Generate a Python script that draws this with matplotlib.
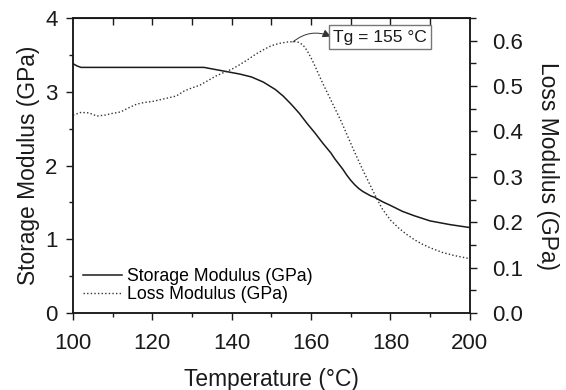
#!/usr/bin/env python3
"""DMA curves: storage and loss modulus against temperature."""

import numpy as np
import matplotlib.pyplot as plt
from matplotlib.ticker import MultipleLocator

plt.rcParams['font.family'] = ['Liberation Sans', 'DejaVu Sans']

# storage modulus (GPa), left axis
temp_storage = [100, 101, 102, 110, 120, 130, 133, 136, 139, 142, 145, 148,
                151, 153, 155, 157, 159, 161, 163, 165, 166, 167, 168, 169,
                170, 171, 172, 173, 174, 175, 176, 177, 178, 180, 183, 186,
                190, 195, 200]
storage = [3.38, 3.35, 3.33, 3.33, 3.33, 3.33, 3.33, 3.30, 3.27, 3.24, 3.20,
           3.13, 3.03, 2.94, 2.83, 2.71, 2.57, 2.44, 2.30, 2.17, 2.09, 2.02,
           1.95, 1.87, 1.80, 1.74, 1.69, 1.65, 1.62, 1.59, 1.57, 1.54, 1.51,
           1.46, 1.38, 1.32, 1.25, 1.20, 1.16]

# loss modulus (GPa), right axis
temp_loss = [100, 102, 104, 106, 108, 110, 112, 114, 116, 118, 120, 122, 124,
             126, 128, 130, 132, 134, 136, 138, 140, 142, 144, 146, 148, 150,
             152, 154, 156, 157, 158, 159, 160, 161, 162, 163, 164, 165, 166,
             167, 168, 169, 170, 171, 172, 173, 174, 175, 176, 177, 178, 180,
             182, 184, 186, 188, 190, 193, 196, 200]
loss = [0.436, 0.442, 0.441, 0.434, 0.436, 0.440, 0.443, 0.452, 0.460, 0.464,
        0.466, 0.470, 0.474, 0.478, 0.489, 0.496, 0.502, 0.512, 0.522, 0.530,
        0.537, 0.547, 0.558, 0.570, 0.580, 0.589, 0.594, 0.597, 0.598, 0.596,
        0.590, 0.578, 0.562, 0.544, 0.524, 0.505, 0.487, 0.469, 0.451, 0.433,
        0.414, 0.394, 0.374, 0.354, 0.335, 0.316, 0.298, 0.280, 0.262, 0.245,
        0.229, 0.205, 0.188, 0.174, 0.162, 0.152, 0.144, 0.134, 0.127, 0.120]

tg = 155
tg_label = f'Tg = {tg} °C'

ink = '#1a1a1a'

fig = plt.figure(figsize=(5.66, 3.9), dpi=100)
ax = fig.add_axes([0.129, 0.197, 0.701, 0.757])
ax2 = ax.twinx()

l1, = ax.plot(temp_storage, storage, color=ink, lw=1.1, label='Storage Modulus (GPa)')
l2, = ax2.plot(temp_loss, loss, color='#333333', lw=1.0, ls=(0, (1, 1.6)),
               label='Loss Modulus (GPa)')

ax.set_xlim(100, 200)
ax.set_ylim(0, 4)
ax2.set_ylim(0, 0.65)

ax.xaxis.set_major_locator(MultipleLocator(20))
ax.xaxis.set_minor_locator(MultipleLocator(10))
ax.yaxis.set_major_locator(MultipleLocator(1))
ax.yaxis.set_minor_locator(MultipleLocator(0.5))
ax2.yaxis.set_major_locator(MultipleLocator(0.1))
ax2.yaxis.set_minor_locator(MultipleLocator(0.05))
ax2.yaxis.set_major_formatter(plt.FormatStrFormatter('%.1f'))

ax.tick_params(axis='both', which='major', direction='out', length=5, width=1,
               labelsize=16, colors=ink)
ax.tick_params(axis='both', which='minor', direction='out', length=3, width=1, colors=ink)
ax.tick_params(axis='x', pad=9)
ax.tick_params(axis='y', pad=6)
ax2.tick_params(axis='y', which='major', direction='out', length=5, width=1,
                labelsize=16, pad=11, colors=ink)
ax2.tick_params(axis='y', which='minor', direction='out', length=4, width=1, colors=ink)

# inward ticks along the top edge
top = ax.secondary_xaxis('top')
top.set_xticks(np.arange(110, 200, 10))
top.tick_params(direction='in', length=5, width=1, labeltop=False, colors=ink)

for a in (ax, ax2):
    for s in a.spines.values():
        s.set_linewidth(1.1)
        s.set_color(ink)

ax.set_xlabel('Temperature (°C)', fontsize=16.4, color=ink, labelpad=10)
ax.set_ylabel('Storage Modulus (GPa)', fontsize=16.4, color=ink, labelpad=4)
ax2.set_ylabel('Loss Modulus (GPa)', fontsize=16.4, color=ink, rotation=270,
               va='bottom', labelpad=9)

ax.legend(handles=[l1, l2], loc='lower left', frameon=False, fontsize=12.7,
          handlelength=2.2, handletextpad=0.3, labelspacing=0.1,
          borderaxespad=0.25, borderpad=0.3)

# Tg marker
ax2.annotate('', xy=(165.0, 0.609), xytext=(155.4, 0.597),
             arrowprops=dict(arrowstyle='-|>', color='#333333', lw=0.7,
                             connectionstyle='arc3,rad=-0.3', mutation_scale=12,
                             shrinkA=0, shrinkB=0))
ax2.text(165.5, 0.608, tg_label, fontsize=12.6, color=ink, va='center', ha='left',
         bbox=dict(boxstyle='square,pad=0.25', fc='white', ec='#777777', lw=1))

fig.savefig('out.png', dpi=100)
